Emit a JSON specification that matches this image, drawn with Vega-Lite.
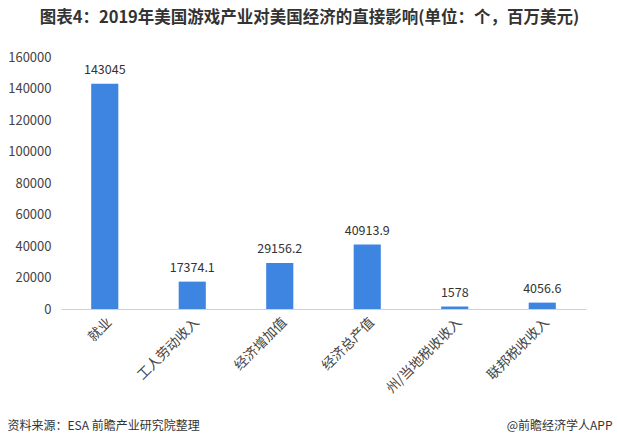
{
  "$schema": "https://vega.github.io/schema/vega-lite/v6.json",
  "width": 525,
  "height": 252,
  "autosize": {"type": "none"},
  "padding": {"left": 61, "top": 57, "right": 32, "bottom": 136},
  "background": "white",
  "title": {
    "text": "图表4：2019年美国游戏产业对美国经济的直接影响(单位：个，百万美元)",
    "font": "Noto Sans CJK SC",
    "fontSize": 16.5,
    "fontWeight": "bold",
    "color": "#333333",
    "anchor": "middle",
    "frame": "group",
    "dx": -14,
    "offset": 25
  },
  "data": {
    "values": [
      {"item": "就业", "value": 143045},
      {"item": "工人劳动收入", "value": 17374.1},
      {"item": "经济增加值", "value": 29156.2},
      {"item": "经济总产值", "value": 40913.9},
      {"item": "州/当地税收收入", "value": 1578},
      {"item": "联邦税收收入", "value": 4056.6}
    ]
  },
  "encoding": {
    "x": {
      "field": "item",
      "type": "nominal",
      "sort": null,
      "scale": {"paddingInner": 0.69, "paddingOuter": 0.345},
      "axis": {
        "title": "资料来源：ESA 前瞻产业研究院整理",
        "titleFont": "Noto Sans CJK SC",
        "titleFontSize": 12,
        "titleFontWeight": "normal",
        "titleColor": "#333333",
        "titleAnchor": "start",
        "titleAlign": "left",
        "titleBaseline": "middle",
        "titleX": -54,
        "titleY": 116,
        "labelAngle": -45,
        "labelFont": "Noto Sans CJK SC",
        "labelFontSize": 13.5,
        "labelColor": "#444444",
        "labelPadding": 6,
        "ticks": false,
        "domainColor": "#d0d0d0",
        "grid": false
      }
    },
    "y": {
      "field": "value",
      "type": "quantitative",
      "scale": {"domain": [0, 160000]},
      "axis": {
        "values": [0, 20000, 40000, 60000, 80000, 100000, 120000, 140000, 160000],
        "format": "d",
        "title": "@前瞻经济学人APP",
        "titleFont": "Noto Sans CJK SC",
        "titleFontSize": 12,
        "titleFontWeight": "normal",
        "titleColor": "#333333",
        "titleAngle": 0,
        "titleAlign": "right",
        "titleBaseline": "middle",
        "titleX": 551,
        "titleY": 368,
        "labelFont": "Noto Sans CJK SC",
        "labelFontSize": 13,
        "labelColor": "#444444",
        "labelPadding": 10,
        "ticks": false,
        "domain": false,
        "grid": false
      }
    }
  },
  "layer": [
    {"mark": {"type": "bar", "color": "#3D85E0"}},
    {
      "mark": {"type": "text", "baseline": "bottom", "dy": -7, "font": "Noto Sans CJK SC", "fontSize": 12.5, "color": "#333333"},
      "encoding": {"text": {"field": "value", "type": "nominal"}}
    }
  ],
  "config": {"view": {"stroke": null}}
}
